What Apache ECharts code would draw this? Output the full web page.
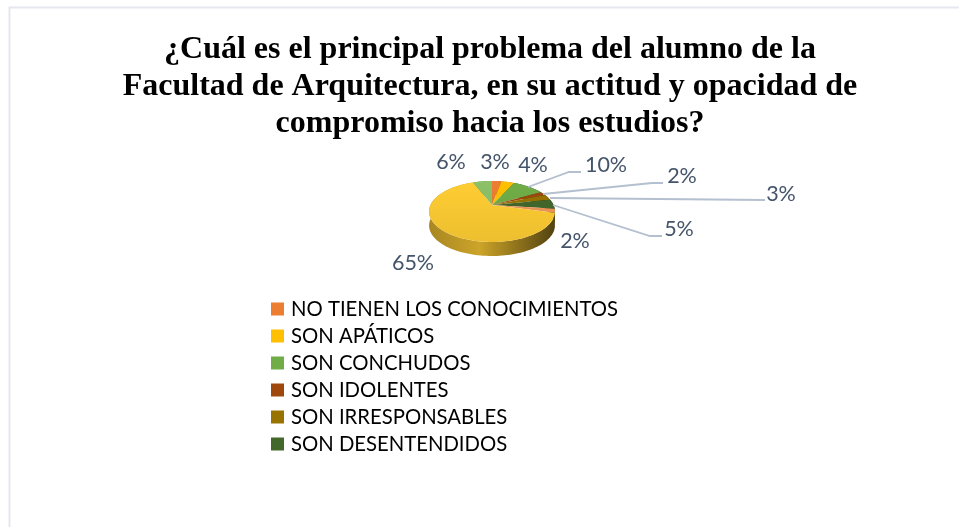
<!DOCTYPE html>
<html>
<head>
<meta charset="utf-8">
<style>
  html, body { margin: 0; padding: 0; background: #fff; }
  #chart { width: 959px; height: 527px; }
</style>
<script src="https://cdn.jsdelivr.net/npm/echarts@6/dist/echarts.min.js"></script>
</head>
<body>
<div id="chart"></div>
<script>
const titleText = '¿Cuál es el principal problema del alumno de la\nFacultad de Arquitectura, en su actitud y opacidad de\ncompromiso hacia los estudios?'
const categories = ['NO TIENEN LOS CONOCIMIENTOS', 'SON APÁTICOS', 'SON CONCHUDOS', 'SON IDOLENTES', 'SON IRRESPONSABLES', 'SON DESENTENDIDOS', 'OTROS 7', 'OTROS 8', 'OTROS 9']
const legendNames = categories.slice(0, 6)
const values = [3, 4, 10, 2, 3, 5, 2, 65, 6]
const colors = ['#ed7d31', '#ffc000', '#70ad47', '#9e480e', '#997300', '#43682b', '#f1975a', '#ffcd33', '#8cc168']

// donde va cada etiqueta (centro del texto)
const labelSpots = [[495, 162], [533, 165], [606, 165], [682, 176], [781, 194], [679, 229], [575, 241], [413, 263], [451, 162]]
// lineas guia: solo las etiquetas alejadas
const leaders = {
  2: [[528, 187], [569, 172], [581, 172]],
  3: [[543, 194], [652, 183], [663, 183]],
  4: [[550, 198], [765, 200]],
  5: [[553, 205], [650, 236], [662, 236]]
}

// perspectiva del disco
const cx = 492, cy = 205, wallH = 14
const persD = 4.7, persA = 136.8, persB = 289
const total = values.reduce((a, b) => a + b, 0)

function project(frac) {
  const t = frac * Math.PI * 2
  const u = Math.sin(t), v = Math.cos(t)
  return [cx + persB * u / (persD + v), cy - persA * v / (persD + v)]
}

function arc(from, to) {
  const pts = []
  const n = Math.max(4, Math.ceil((to - from) * 180))
  for (let i = 0; i <= n; i++) pts.push(project(from + (to - from) * i / n))
  return pts
}

function shade(hex, k) {
  const n = parseInt(hex.slice(1), 16)
  const c = [n >> 16, (n >> 8) & 255, n & 255].map(x => Math.round(x * k))
  return 'rgb(' + c.join(',') + ')'
}

const series = []
let acc = 0
values.forEach((val, i) => {
  const from = acc / total
  const to = (acc + val) / total
  acc += val
  const color = colors[i]

  // pared lateral
  series.push({
    type: 'custom',
    coordinateSystem: 'none',
    silent: true,
    z: 2,
    data: [val],
    renderItem() {
      const top = arc(from, to)
      const bottom = top.map(p => [p[0], p[1] + wallH]).reverse()
      return {
        type: 'polygon',
        shape: { points: top.concat(bottom) },
        style: {
          fill: new echarts.graphic.LinearGradient(429, 0, 555, 0, [
            { offset: 0, color: shade(color, 0.66) },
            { offset: 0.4, color: shade(color, 0.8) },
            { offset: 1, color: shade(color, 0.32) }
          ], true)
        }
      }
    }
  })

  // cara superior, con su nombre para la leyenda
  series.push({
    type: 'custom',
    coordinateSystem: 'none',
    name: categories[i],
    z: 3,
    itemStyle: { color: color },
    data: [val],
    renderItem() {
      return {
        type: 'polygon',
        shape: { points: [[cx, cy]].concat(arc(from, to)) },
        style: {
          fill: new echarts.graphic.LinearGradient(0, 181, 0, 242, [
            { offset: 0, color: shade(color, 1.0) },
            { offset: 1, color: shade(color, 0.93) }
          ], true)
        }
      }
    }
  })

  // etiqueta y linea guia
  series.push({
    type: 'custom',
    coordinateSystem: 'none',
    silent: true,
    z: 4,
    data: [val],
    renderItem(params, api) {
      const children = [{
        type: 'text',
        x: labelSpots[i][0],
        y: labelSpots[i][1],
        style: {
          text: api.value(0) + '%',
          fill: '#44546a',
          font: '21.5px Lato',
          align: 'center',
          verticalAlign: 'middle'
        }
      }]
      if (leaders[i]) {
        children.unshift({
          type: 'polyline',
          shape: { points: leaders[i] },
          style: { stroke: '#b4bfcf', lineWidth: 1.8, fill: 'none' }
        })
      }
      return { type: 'group', children: children }
    }
  })
})

const chart = echarts.init(document.getElementById('chart'))
chart.setOption({
  animation: false,
  backgroundColor: '#fff',
  title: {
    text: titleText,
    left: 485,
    top: 26,
    textAlign: 'center',
    textStyle: {
      fontFamily: '"Liberation Serif"',
      fontWeight: 'bold',
      fontSize: 32,
      lineHeight: 37,
      color: '#000'
    }
  },
  legend: {
    data: legendNames,
    orient: 'vertical',
    left: 271,
    top: 299,
    padding: 0,
    itemWidth: 13,
    itemHeight: 13,
    itemGap: 7,
    icon: 'rect',
    selectedMode: false,
    textStyle: { fontFamily: 'Lato', fontSize: 20.3, color: '#000', padding: [0, 0, 0, 2], height: 20, lineHeight: 20 }
  },
  graphic: [{
    type: 'polyline',
    shape: { points: [[9.5, 527], [9.5, 7.5], [959, 7.5]] },
    style: { stroke: '#e4e8ee', lineWidth: 2, fill: 'none' },
    silent: true,
    z: 0
  }],
  series: series
})
</script>
</body>
</html>
